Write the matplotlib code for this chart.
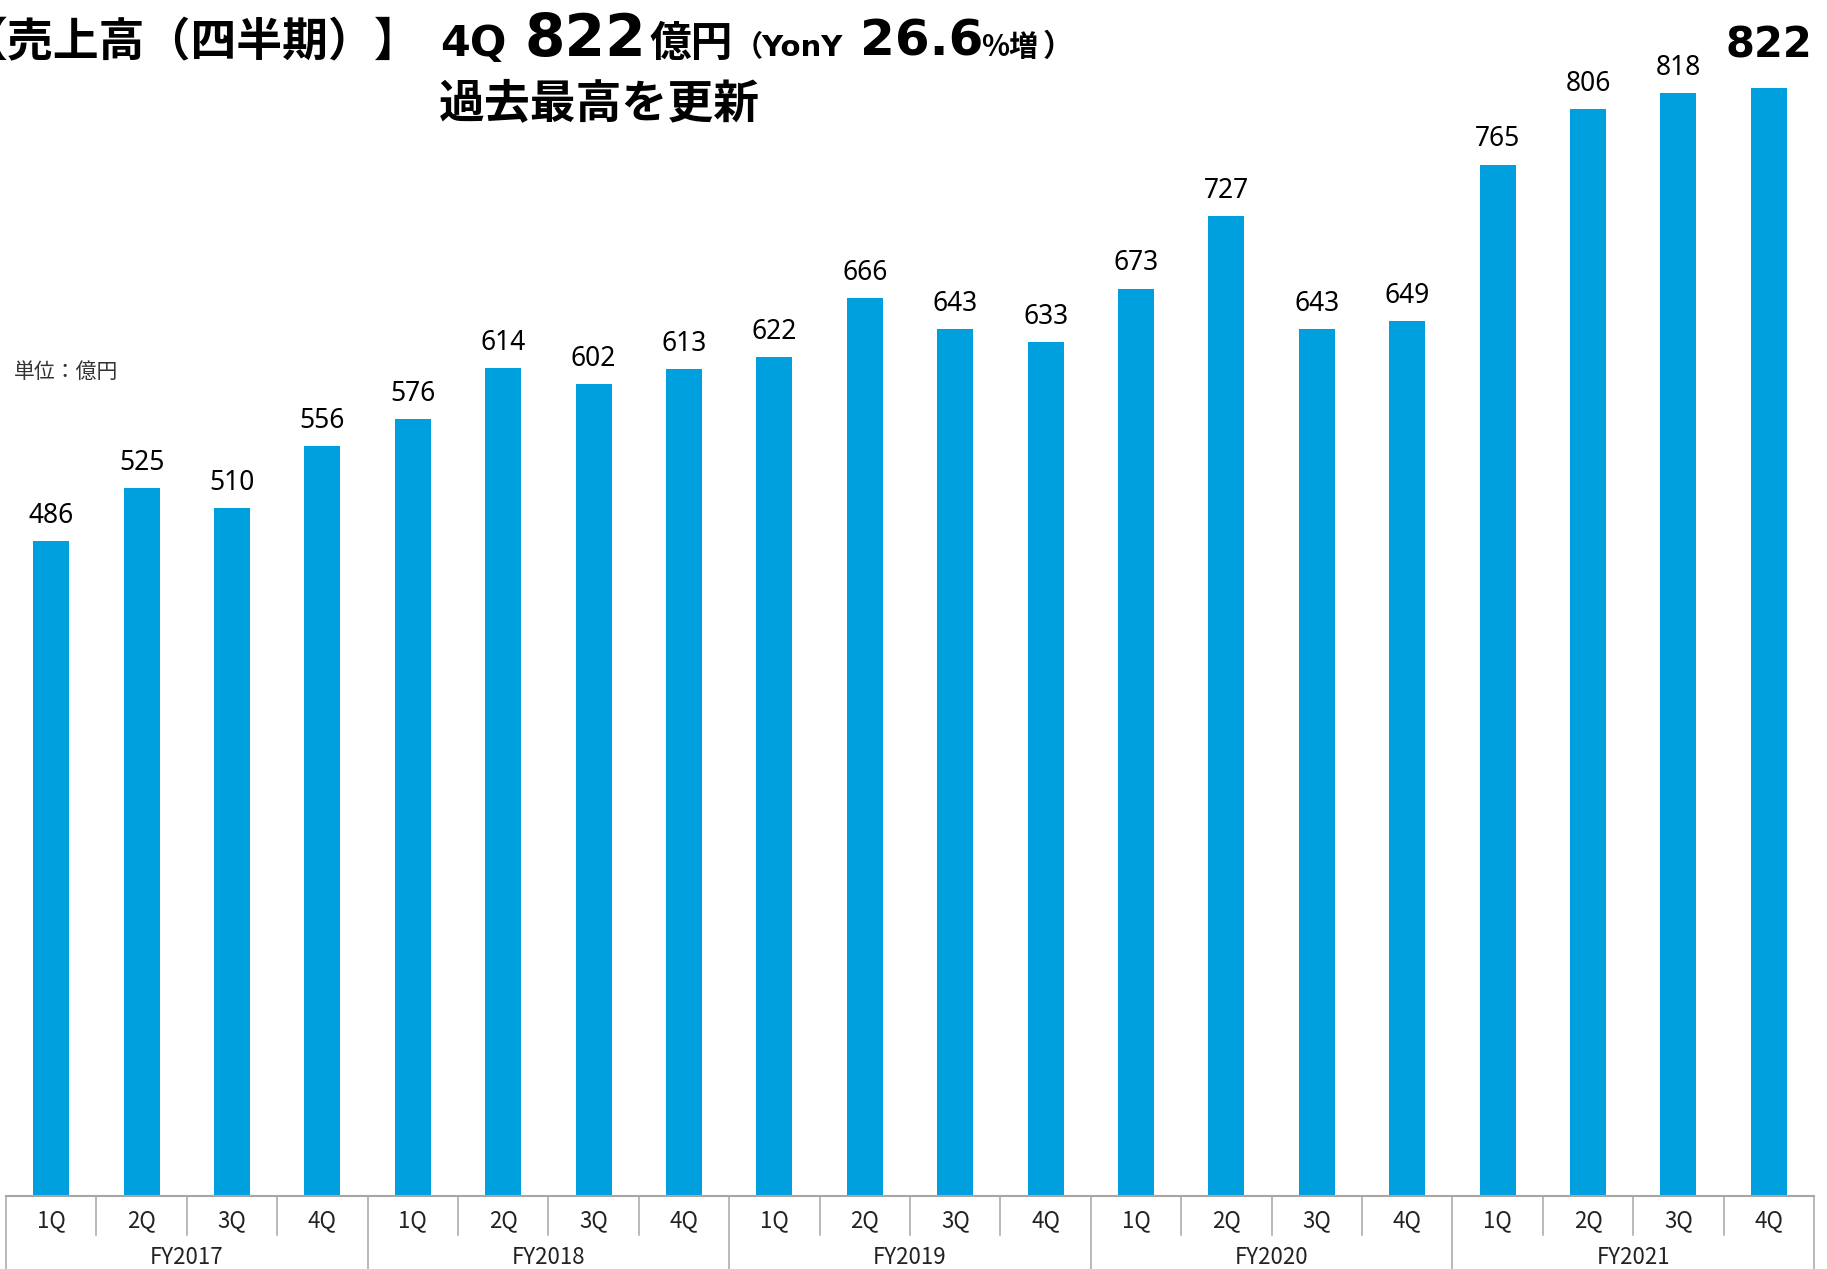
import matplotlib
matplotlib.use("Agg")
import matplotlib.pyplot as plt
from matplotlib.transforms import blended_transform_factory
from matplotlib.lines import Line2D

# data
years = ["FY2017", "FY2018", "FY2019", "FY2020", "FY2021"]
quarters = ["1Q", "2Q", "3Q", "4Q"]
sales = [486, 525, 510, 556,
         576, 614, 602, 613,
         622, 666, 643, 633,
         673, 727, 643, 649,
         765, 806, 818, 822]

bar_color = "#00a0df"
line_color = "#a6a6a6"
jp = ["Noto Sans CJK JP", "DejaVu Sans"]
lat = ["DejaVu Sans", "Noto Sans CJK JP"]

W, H = 1827, 1269
fig = plt.figure(figsize=(W / 100, H / 100), dpi=100)
ax = fig.add_axes([6 / W, 1 - 1196 / H, 1808 / W, 1196 / H])

n = len(sales)
x = list(range(n))
ax.bar(x, sales, width=0.40, color=bar_color, zorder=2)
ax.set_xlim(-0.5, n - 0.5)
ax.set_ylim(0, 887)

# value labels
for i, v in enumerate(sales):
    if i == n - 1:
        ax.annotate(str(v), (i, v), xytext=(0, 22), textcoords="offset points",
                    ha="center", va="baseline", fontsize=30, fontweight="bold",
                    family="DejaVu Sans", color="black")
    else:
        ax.annotate(str(v), (i, v), xytext=(0, 13), textcoords="offset points",
                    ha="center", va="baseline", fontsize=19,
                    family="Noto Sans", color="black")

# axes styling
for s in ["top", "right", "left"]:
    ax.spines[s].set_visible(False)
ax.spines["bottom"].set_color(line_color)
ax.spines["bottom"].set_linewidth(1.5)
ax.set_yticks([])
ax.set_xticks([])

# category labels below the axis
trans = blended_transform_factory(ax.transData, fig.transFigure)
for i in range(n):
    fig.text(i, 1 - 1221 / H, quarters[i % 4], transform=trans, family=jp,
             fontsize=16, ha="center", va="center", color="#222222")
for k, yr in enumerate(years):
    fig.text(4 * k + 1.5, 1 - 1258 / H, yr, transform=trans, family=jp,
             fontsize=16, ha="center", va="center", color="#222222")

# separators
for k in range(n + 1):
    xb = k - 0.5
    y_end = 0 if k % 4 == 0 else 1 - 1235 / H
    fig.add_artist(Line2D([xb, xb], [1 - 1196 / H, y_end], transform=trans,
                          color=line_color, lw=1.1, clip_on=False))

# unit label
fig.text(14 / W, 1 - 372 / H, "単位：億円", family=jp, fontsize=15,
         ha="left", va="center", color="#333333")

# headline
base1 = 1 - 56 / H
pieces = [
    (-38, "【売上高（四半期）】", 33, jp),
    (440, "4Q", 31, lat),
    (524, "822", 42, lat),
    (649, "億円", 30, jp),
    (734, "（YonY", 21, lat),
    (860, "26.6", 36, lat),
    (981, "%増", 21, jp),
    (1043, "）", 22, jp),
]
for px, s, fs, fam in pieces:
    fig.text(px / W, base1, s, family=fam, fontsize=fs, fontweight="bold",
             ha="left", va="baseline", color="black")
fig.text(439 / W, 1 - 117 / H, "過去最高を更新", family=jp, fontsize=33,
         fontweight="bold", ha="left", va="baseline", color="black")

fig.savefig("out.png", dpi=100)
